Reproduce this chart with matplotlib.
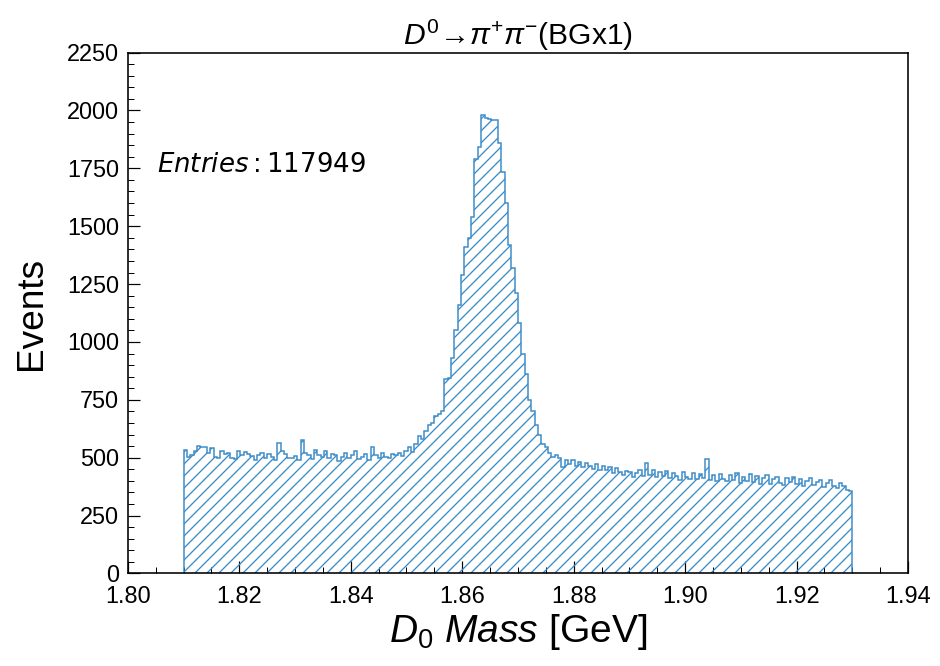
import numpy as np
import matplotlib
matplotlib.use('Agg')
import matplotlib.pyplot as plt
from matplotlib.ticker import MultipleLocator, FormatStrFormatter

# Histogram of the D0 candidate mass, 200 bins from 1.81 to 1.93 GeV
mass_lo = 1.81
mass_hi = 1.93
n_bins = 200
n_entries = 117949

counts_left = [533, 505, 510, 528, 552, 545, 548, 520, 540, 505,
               498, 530, 515, 522, 500, 495, 530, 512, 525, 518,
               508, 490, 510, 520, 497, 515, 502, 488, 565, 530,
               515, 500, 498, 507, 488, 576, 520, 510, 495, 533,
               512, 505, 528, 500, 518, 510, 487, 502, 520, 498,
               510, 530, 495, 505, 515, 490, 548, 512, 498, 520]
counts_rise = [505, 498, 515, 510, 522, 508, 530, 545, 525, 560,
               592, 580, 615, 640, 650, 680, 690, 700, 838, 845,
               932, 1053, 1161, 1290]
counts_peak = [1411, 1450, 1540, 1790, 1844, 1980, 1966, 1962, 1958, 1958,
               1858, 1736, 1600, 1419, 1319, 1211]
counts_tail = [1080, 950, 860, 750, 700, 640, 600, 560, 545, 520,
               505, 510, 500, 460]
counts_right = [490, 472, 488, 465, 482, 458, 478, 462, 452, 474, 448, 463,
                445, 458, 432, 455, 440, 425, 442, 438, 418, 436, 446, 422, 475, 426, 448,
                415, 438, 422, 444, 412, 436, 420, 405, 440, 416, 410, 434, 406, 428, 414,
                495, 404, 424, 400, 428,
                410, 398, 424, 404, 434, 392, 416, 400, 428, 395, 420, 388, 412, 424, 386,
                408, 418, 392, 382, 414,
                396, 418, 386, 408, 376, 400, 412, 380, 396, 404, 372, 392, 402, 378, 368,
                390, 378, 362, 355]

counts = np.array(counts_left + counts_rise + counts_peak + counts_tail + counts_right)
edges = np.linspace(mass_lo, mass_hi, n_bins + 1)
centers = 0.5 * (edges[:-1] + edges[1:])

plt.rcParams['font.family'] = ['Liberation Sans', 'DejaVu Sans']
plt.rcParams['mathtext.fontset'] = 'custom'
plt.rcParams['mathtext.rm'] = 'Liberation Sans'
plt.rcParams['mathtext.it'] = 'Liberation Sans:italic'
plt.rcParams['mathtext.bf'] = 'Liberation Sans:bold'
plt.rcParams['hatch.linewidth'] = 1.3

fig = plt.figure(figsize=(940 / 72, 666 / 72), dpi=72)
ax = fig.add_axes([0.136, 0.139, 0.830, 0.782])

blue = '#3a8cc8'
ax.hist(centers, bins=edges, weights=counts, histtype='step',
        hatch='//', edgecolor=blue, linewidth=1.5)

ax.set_xlim(1.80, 1.94)
ax.set_ylim(0, 2250)
ax.xaxis.set_major_locator(MultipleLocator(0.02))
ax.xaxis.set_minor_locator(MultipleLocator(0.005))
ax.yaxis.set_major_locator(MultipleLocator(250))
ax.yaxis.set_minor_locator(MultipleLocator(50))
ax.xaxis.set_major_formatter(FormatStrFormatter('%.2f'))

ax.tick_params(which='both', direction='in', top=False, right=False, labelsize=23.5)
ax.tick_params(axis='x', which='both', pad=13)
ax.tick_params(axis='y', which='both', pad=9)
ax.tick_params(which='major', length=12, width=1.2)
ax.tick_params(which='minor', length=6, width=1.0)
for sp in ax.spines.values():
    sp.set_linewidth(1.6)

ax.set_title(r'$D^0$→$\pi^{+}\pi^{-}$(BGx1)', fontsize=30, pad=5)
ax.set_xlabel(r'$D_0\ Mass$ [GeV]', fontsize=39, labelpad=4)
ax.set_ylabel('Events', fontsize=37, labelpad=18)

ax.text(0.038, 0.784, r'$Entries: %d$' % n_entries, transform=ax.transAxes,
        fontsize=26, va='center', ha='left', math_fontfamily='dejavusans')

fig.savefig('out.png', dpi=72)
